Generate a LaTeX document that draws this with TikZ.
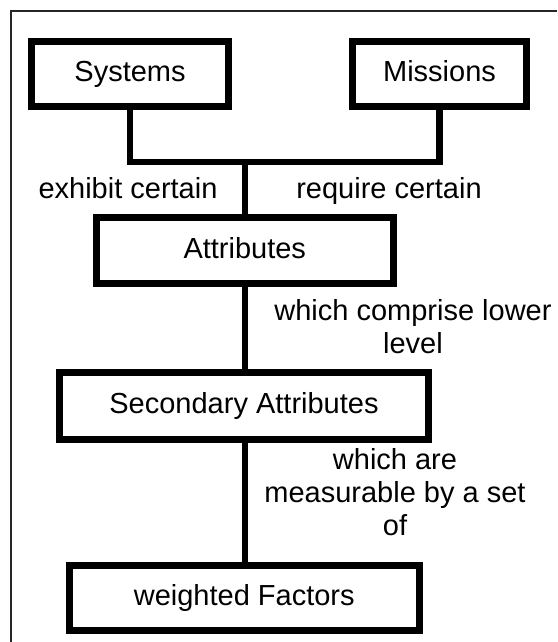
\documentclass[tikz,border=0pt]{standalone}
\usepackage{fontspec}
\setmainfont{Liberation Sans}
\begin{document}
\begin{tikzpicture}[x=1pt,y=-1pt,
  txt/.style={font=\fontsize{29}{33}\selectfont},
  box/.style={txt, draw=black, line width=7pt, rectangle, inner sep=0pt,
              minimum height=65pt, text height=21pt, text depth=6pt},
  lbl/.style={txt, align=center, anchor=base, inner sep=0pt},
  link/.style={draw=black, line width=6.5pt, line join=miter}]
\useasboundingbox (0,0) rectangle (557,642);

% frame along the top and left edges
\draw[line width=1.3pt, draw=black!85] (11,642) -- (11,11) -- (557,11);

% boxes
\node[box, minimum width=197pt] (sys) at (130,74) {Systems};
\node[box, minimum width=174pt] (mis) at (439.5,74) {Missions};
\node[box, minimum width=296.5pt, minimum height=66pt] (att) at (244.75,250.5) {Attributes};
\node[box, minimum width=369pt, minimum height=67pt] (sec) at (244,406) {Secondary Attributes};
\node[box, minimum width=349.5pt] (fac) at (244.25,598) {weighted Factors};

% connectors
\coordinate (j) at (245,162);
\draw[link] (sys.south) |- (j) -| (mis.south);
\draw[link] (j) -- (j |- att.north);
\draw[link] (att.south -| j) -- (j |- sec.north);
\draw[link] (sec.south -| j) -- (j |- fac.north);

% connector labels (base = baseline of the last line)
\node[lbl] (l1) at (128,198) {exhibit certain};
\node[lbl] (l2) at (389,198) {require certain};
\node[lbl] (l3) at (413,353) {which comprise lower\\level};
\node[lbl] (l4) at (395,535) {which are\\measurable by a set\\of};
\end{tikzpicture}
\end{document}
